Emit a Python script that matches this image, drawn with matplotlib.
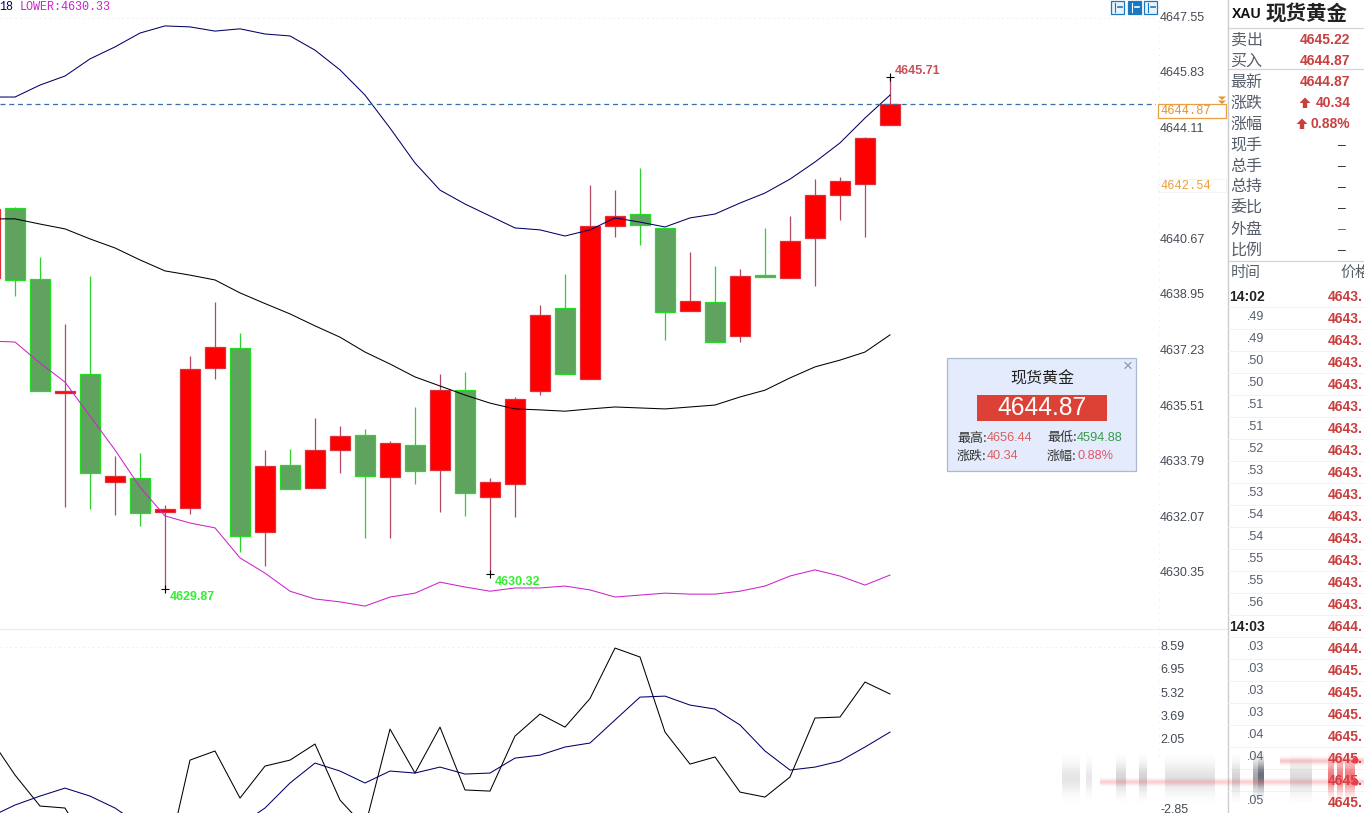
import numpy as np
import matplotlib
matplotlib.use("Agg")
import matplotlib.pyplot as plt
from matplotlib.patches import Rectangle
from matplotlib.transforms import ScaledTranslation

CJK = ['Noto Sans CJK SC', 'DejaVu Sans']
SANS = 'Liberation Sans'
MONO = 'Liberation Mono'

# ---------- data ----------
candle_idx = list(range(-1, 36))
opens = [4639.49, 4641.66, 4639.46, 4635.93, 4636.52, 4633.19, 4633.30, 4632.25, 4632.37, 4636.71,
         4637.32, 4631.63, 4633.70, 4632.99, 4634.17, 4634.63, 4633.33, 4634.32, 4633.55, 4636.02,
         4632.71, 4633.12, 4635.99, 4638.56, 4636.37, 4641.10, 4641.47, 4641.04, 4638.47, 4638.75,
         4637.70, 4639.58, 4639.49, 4640.73, 4642.06, 4642.40, 4644.22]
highs = [4641.80, 4641.69, 4640.14, 4638.07, 4639.55, 4633.98, 4634.08, 4632.47, 4637.08, 4638.75,
         4637.79, 4634.17, 4634.20, 4635.16, 4634.91, 4634.82, 4634.45, 4635.50, 4636.52, 4636.58,
         4633.30, 4635.81, 4638.66, 4639.61, 4642.37, 4642.21, 4642.89, 4641.04, 4640.30, 4639.86,
         4639.77, 4641.04, 4641.41, 4642.55, 4642.62, 4643.85, 4645.71]
lows = [4639.30, 4638.93, 4635.98, 4632.41, 4632.34, 4632.16, 4631.82, 4629.87, 4632.19, 4636.37,
        4631.01, 4630.58, 4632.96, 4632.99, 4633.46, 4631.45, 4631.45, 4633.12, 4632.25, 4632.13,
        4630.32, 4632.10, 4635.87, 4636.52, 4636.37, 4640.76, 4640.51, 4637.57, 4638.47, 4637.51,
        4637.51, 4639.52, 4639.49, 4639.24, 4641.28, 4640.76, 4644.22]
closes = [4641.63, 4639.44, 4635.98, 4636.01, 4633.46, 4633.35, 4632.22, 4632.34, 4636.67, 4637.36,
          4631.51, 4633.67, 4632.96, 4634.17, 4634.60, 4633.36, 4634.38, 4633.52, 4636.02, 4632.84,
          4633.18, 4635.75, 4638.35, 4636.52, 4641.10, 4641.41, 4641.13, 4638.44, 4638.78, 4637.51,
          4639.55, 4639.52, 4640.63, 4642.06, 4642.49, 4643.82, 4644.87]
boll_upper = [4645.09, 4645.09, 4645.46, 4645.74, 4646.27, 4646.64, 4647.07, 4647.29, 4647.26, 4647.13,
              4647.20, 4647.04, 4646.98, 4646.54, 4645.93, 4645.15, 4644.13, 4643.05, 4642.21, 4641.78,
              4641.41, 4641.04, 4640.98, 4640.79, 4640.98, 4641.35, 4641.22, 4641.07, 4641.35, 4641.47,
              4641.81, 4642.12, 4642.55, 4643.08, 4643.67, 4644.44, 4645.15]
boll_mid = [4641.32, 4641.32, 4641.16, 4641.01, 4640.70, 4640.42, 4640.05, 4639.71, 4639.58, 4639.43,
            4639.03, 4638.70, 4638.38, 4638.01, 4637.66, 4637.20, 4636.83, 4636.43, 4636.15, 4635.87,
            4635.62, 4635.44, 4635.41, 4635.37, 4635.44, 4635.50, 4635.47, 4635.44, 4635.50, 4635.56,
            4635.81, 4636.02, 4636.40, 4636.74, 4636.95, 4637.20, 4637.73]
boll_lower = [4637.54, 4637.51, 4636.86, 4636.27, 4635.22, 4634.17, 4633.02, 4632.13, 4631.91, 4631.76,
              4630.83, 4630.36, 4629.80, 4629.56, 4629.47, 4629.34, 4629.62, 4629.74, 4630.08, 4629.93,
              4629.80, 4629.90, 4629.90, 4629.96, 4629.84, 4629.62, 4629.68, 4629.74, 4629.71, 4629.71,
              4629.80, 4629.96, 4630.27, 4630.46, 4630.27, 4629.99, 4630.30]
osc_fast = [2.19, -0.41, -2.59, -2.73, -5.69, -7.79, -8.15, -7.09, 0.64, 1.28,
            -2.03, 0.22, 0.64, 1.77, -2.17, -4.07, 2.82, -0.27, 2.96, -1.46,
            -1.54, 2.33, 3.88, 2.96, 4.97, 8.52, 7.89, 2.61, 0.36, 0.86,
            -1.61, -1.96, -0.55, 3.60, 3.67, 6.13, 5.29]
osc_slow = [-3.36, -2.52, -1.89, -1.33, -1.89, -2.73, -3.93, -4.98, -5.33, -4.98,
            -3.93, -2.73, -0.97, 0.43, -0.13, -0.97, -0.13, -0.27, 0.15, -0.34,
            -0.27, 0.78, 0.99, 1.56, 1.84, 3.46, 5.07, 5.14, 4.51, 4.23,
            3.11, 1.28, -0.06, 0.15, 0.57, 1.56, 2.61]
price_ticks = [4647.55, 4645.83, 4644.11, 4640.67, 4638.95, 4637.23, 4635.51, 4633.79, 4632.07, 4630.35]
osc_ticks = [8.59, 6.95, 5.32, 3.69, 2.05, -2.85]
last_price = 4644.87
quote_labels = ['卖出', '买入', '最新', '涨跌', '涨幅', '现手', '总手', '总持', '委比', '外盘', '比例']
quote_values = ['4645.22', '4644.87', '4644.87', '40.34', '0.88%', '–', '–', '–', '–', '–', '–']
tick_times = ['14:02', '.49', '.49', '.50', '.50', '.51', '.51', '.52', '.53', '.53', '.54', '.54',
              '.55', '.55', '.56', '14:03', '.03', '.03', '.03', '.03', '.04', '.04', '', '.05']
tick_prices = ['4643.'] * 15 + ['4644.', '4644.'] + ['4645.'] * 7

# ---------- figure ----------
W, H = 1364, 813
fig = plt.figure(figsize=(W / 100, H / 100), dpi=100, facecolor='white')
AX_R = 1156
ax = fig.add_axes([0, 1 - 630 / H, AX_R / W, 630 / H])
ax2 = fig.add_axes([0, 0, AX_R / W, 183 / H])
xlim = (-0.6, (AX_R - 15) / 25)
ax.set_xlim(*xlim)
ax.set_ylim(4628.60, 4648.092)
ax2.set_xlim(*xlim)
ax2.set_ylim(-3.08, 9.79)

RED, RED_E, RED_W = '#FF0000', '#DF2F3A', '#B5485F'
GRN, GRN_E, GRN_W = '#5FA35F', '#22DD22', '#2ED02E'

for i, o, h, l, c in zip(candle_idx, opens, highs, lows, closes):
    up = c >= o
    ax.vlines(i, l, h, color=RED_W if up else GRN_W, lw=0.9, zorder=2)
    ax.bar(i, abs(c - o), bottom=min(o, c), width=0.8, color=RED if up else GRN,
           edgecolor=RED_E if up else GRN_E, linewidth=0.9, zorder=3)

ax.plot(candle_idx, boll_upper, color='#000066', lw=0.75, zorder=4)
ax.plot(candle_idx, boll_mid, color='#000000', lw=0.75, zorder=4)
ax.plot(candle_idx, boll_lower, color='#CC22CC', lw=0.75, zorder=4)
ax.axhline(last_price, color='#3A6EA5', lw=0.9, dashes=(4, 3), zorder=5)
ax.axhline(price_ticks[0], color='#F0F0F0', lw=0.7, ls=(0, (2, 3)), zorder=1)

# high / low markers
marks = [(35, highs[-1], '4645.71', '#C8505A', (5, 6)),
         (6, lows[7], '4629.87', '#33EE33', (5, -8)),
         (19, lows[20], '4630.32', '#33EE33', (5, -8))]
for i, p, s, col, off in marks:
    ax.plot([i], [p], marker='+', color='black', ms=6, mew=0.8, zorder=6)
    ax.annotate(s, xy=(i, p), xytext=off, textcoords='offset pixels', color=col,
                fontsize=9, fontweight='bold', family=SANS, va='center', ha='left', zorder=7)

ax2.plot(candle_idx, osc_fast, color='#000000', lw=0.75)
ax2.plot(candle_idx, osc_slow, color='#000066', lw=0.75)
ax2.axhline(osc_ticks[0], color='#F0F0F0', lw=0.7, ls=(0, (2, 3)))

lift = ScaledTranslation(0, 1.5 / 100, fig.dpi_scale_trans)
for a, ticks in ((ax, price_ticks), (ax2, osc_ticks)):
    for s in a.spines.values():
        s.set_visible(False)
    a.set_xticks([])
    a.yaxis.tick_right()
    a.set_yticks(ticks)
    a.set_yticklabels(['%.2f' % t for t in ticks], fontsize=9, family=SANS, color='#444B55')
    a.tick_params(axis='y', length=0, pad=3)
    for lab in a.get_yticklabels():
        lab.set_transform(lab.get_transform() + lift)
    a.patch.set_alpha(0)

# ---------- overlay (pixel coordinates for panel furniture) ----------
ov = fig.add_axes([0, 0, 1, 1], zorder=10)
ov.set_xlim(0, W)
ov.set_ylim(H, 0)
ov.axis('off')


def T(x, y, s, size=9, color='#333', ha='left', va='center', family=SANS, **kw):
    return ov.text(x, y, s, fontsize=size, color=color, ha=ha, va=va, family=family, **kw)


def px(n):
    return n * 0.72


ov.plot([0, 1228], [629, 629], color='#ECECEC', lw=0.8)
ov.plot([1159, 1159], [0, 760], color='#E6E6E6', lw=0.7, ls=(0, (1, 6)))

# top legend
T(-1, 7, '18', px(11.8), '#000066', family=MONO)
T(20, 7, 'LOWER:4630.33', px(11.8), '#CC22CC', family=MONO)

# top-right buttons
for x0, filled in ((1111, False), (1128, True), (1144, False)):
    ov.add_patch(Rectangle((x0, 1), 13, 13, fc='#1A78C2' if filled else '#EAF3FB', ec='#1A78C2', lw=0.9))
    c = 'white' if filled else '#1A78C2'
    ov.plot([x0 + 4, x0 + 4], [3, 12], color=c, lw=0.8)
    ov.plot([x0 + 7, x0 + 11], [7.5, 7.5], color=c, lw=1.2)

# current price tag
ov.add_patch(Rectangle((1158, 104), 68, 14, fc='white', ec='#E8A040', lw=0.9))
T(1160, 111, '4644.87', px(12), '#E8922A', family=MONO)
ov.add_patch(Rectangle((1158, 179), 68, 13, fc='white', ec='#F4F4F4', lw=0.7))
T(1160, 186, '4642.54', px(12), '#E8A040', family=MONO)
ov.fill([1218, 1226, 1222], [96.5, 96.5, 100], color='#E8922A', lw=0)
ov.fill([1218, 1226, 1222], [100.5, 100.5, 104], color='#E8922A', lw=0)

# right panel
ov.plot([1228, 1228], [0, H], color='#C8CCD0', lw=1)
for y in (28, 69.5, 261):
    ov.plot([1228, W], [y, y], color='#D0D4D8', lw=0.9)
T(1232, 14, 'XAU', px(14), '#111', fontweight='bold')
T(1265.5, 14.5, '现货黄金', px(20.5), '#222', family=CJK, fontweight='bold')
for k, (lab, val) in enumerate(zip(quote_labels, quote_values)):
    y = 40 + 21 * k
    T(1230.5, y, lab, px(16), '#555E6A', family=CJK)
    if val == '–':
        T(1346, y, '–', px(14), '#C84040' if lab == '外盘' else '#333', ha='right')
    else:
        T(1350.5, y, val, 10, '#C84040', ha='right', fontweight='bold')
for ax_x, ay in ((1305, 103), (1302, 124)):
    ov.fill([ax_x, ax_x + 5.5, ax_x + 2.2, ax_x + 2.2, ax_x - 2.2, ax_x - 2.2, ax_x - 5.5],
            [ay - 5.5, ay, ay, ay + 5, ay + 5, ay, ay], color='#C84040', lw=0)

T(1230.5, 273, '时间', px(15), '#555E6A', family=CJK)
T(1340, 273, '价格', px(15), '#555E6A', family=CJK, clip_on=True)
for k, (t, p) in enumerate(zip(tick_times, tick_prices)):
    y = 297 + 22 * k
    ov.plot([1228, W], [y + 10, y + 10], color='#F2F2F2', lw=0.7)
    if ':' in t:
        T(1229, y, t, 10, '#222', fontweight='bold')
    elif t:
        T(1264, y - 2, t, px(12.5), '#555E6A', ha='right')
    T(1328, y, p, 10, '#C84040', fontweight='bold')

# info box
ov.add_patch(Rectangle((947, 358), 189, 113, fc='#E3EBFC', ec='#AAB8D0', lw=0.9))
T(1042, 379.5, '现货黄金', px(16), '#222', ha='center', family=CJK)
ov.add_patch(Rectangle((977, 395), 130, 26, fc='#DD4035', ec='none'))
T(1042, 408, '4644.87', px(24.6), 'white', ha='center')
T(1128, 366, '×', px(17), '#8A97AA', ha='center')
for x, y, lab, val, col in ((957, 438, '最高:', '4656.44', '#D9605F'),
                            (1047, 438, '最低:', '4594.88', '#3A9A4A'),
                            (957, 456, '涨跌:', '40.34', '#D9605F'),
                            (1047, 456, '涨幅:', '0.88%', '#E0566A')):
    T(x, y + 0.5, lab, px(13), '#333', family=CJK)
    T(x + 30, y, val, px(12.8), col)

# blurred watermark strip
grad = np.exp(-((np.linspace(-1, 1, 60)) ** 2) * 3)[:, None]


def smear(x0, x1, y0, y1, rgb, alpha):
    rgba = np.zeros((60, 1, 4))
    rgba[..., 0], rgba[..., 1], rgba[..., 2] = rgb
    rgba[..., 3] = grad * alpha
    ov.imshow(rgba, extent=(x0, x1, y1, y0), aspect='auto', interpolation='bilinear', zorder=20)


GRAY, DARK, PINK = (0.72, 0.72, 0.74), (0.35, 0.38, 0.42), (0.92, 0.25, 0.28)
for x0, x1, a in ((1062, 1080, .35), (1086, 1092, .3), (1116, 1126, .55), (1139, 1147, .6), (1165, 1215, .4),
                  (1232, 1240, .6), (1290, 1312, .5)):
    smear(x0, x1, 755, 802, GRAY, a)
smear(1253, 1258, 752, 802, DARK, .55)
smear(1258, 1264, 752, 800, DARK, .9)
for x0, x1 in ((1328, 1334), (1337, 1343), (1345, 1355)):
    smear(x0, x1, 752, 802, PINK, .7)
smear(1280, W, 756, 766, PINK, .3)
smear(1100, W, 777, 787, PINK, .25)
ov.plot([1355, 1355], [760, 782], ls='none', marker='o', ms=3.5, color='#E8404A', zorder=21)
ov.set_xlim(0, W)
ov.set_ylim(H, 0)

fig.savefig('out.png', dpi=100, facecolor='white')
